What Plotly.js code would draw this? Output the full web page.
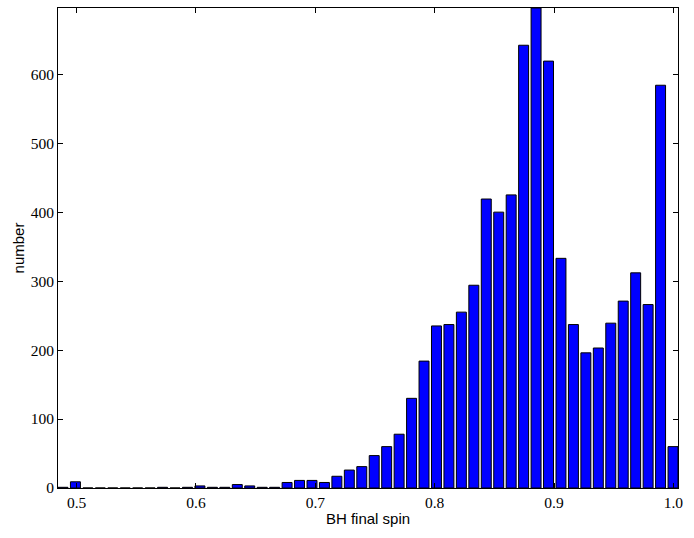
<!DOCTYPE html>
<html>
<head>
<meta charset="utf-8">
<script src="https://cdn.plot.ly/plotly-3.0.1.min.js"></script>
<style>html,body{margin:0;padding:0;background:#fff;}#chart{width:694px;height:538px;}</style>
</head>
<body>
<div id="chart"></div>
<script>
// Histogram of BH final spin: 50 bins
const binStart = 0.4886;      // centre of first bin
const binWidth = 0.01043;     // bin width
const counts = [
  1, 9, 0, 0, 0, 0, 0, 0, 1, 0,
  1, 3, 1, 1, 5, 3, 1, 1, 8, 11,
  11, 8, 17, 26, 31, 47, 60, 78, 130, 184,
  235, 237, 255, 294, 419, 400, 425, 642, 696, 619,
  333, 237, 196, 203, 239, 271, 312, 266, 584, 60
];
const xTicks = [0.5, 0.6, 0.7, 0.8, 0.9, 1.0];
const yTicks = [0, 100, 200, 300, 400, 500, 600];
const xTitle = 'BH final spin';
const yTitle = 'number';

const centers = counts.map((_, i) => binStart + i * binWidth);
const barW = 0.8 * binWidth;

const trace = {
  type: 'bar',
  x: centers,
  y: counts,
  width: barW,
  marker: {color: '#0000ff', line: {color: '#000000', width: 1}},
  hoverinfo: 'x+y'
};

const tickFont = {family: '"Liberation Serif", "DejaVu Serif", serif', size: 15.5, color: '#000'};
const titleFont = {family: '"Liberation Sans", Arial, sans-serif', size: 15, color: '#000'};
const layout = {
  width: 694, height: 538,
  margin: {l: 58, r: 16, t: 8, b: 50, pad: 0},
  paper_bgcolor: '#fff', plot_bgcolor: '#fff',
  showlegend: false,
  bargap: 0,
  xaxis: {
    range: [centers[0] - barW / 2, centers[centers.length - 1] + barW / 2],
    tickvals: xTicks, ticktext: xTicks.map(v => v.toFixed(1)),
    ticks: 'inside', ticklen: 5, tickwidth: 1, tickcolor: '#000',
    showline: true, linecolor: '#000', linewidth: 1, mirror: 'ticks',
    showgrid: false, zeroline: false,
    tickfont: tickFont,
    title: {text: xTitle, font: titleFont, standoff: 3},
    automargin: false
  },
  yaxis: {
    range: [0, 696],
    tickvals: yTicks, ticktext: yTicks.map(String),
    ticks: 'inside', ticklen: 5, tickwidth: 1, tickcolor: '#000',
    showline: true, linecolor: '#000', linewidth: 1, mirror: 'ticks',
    showgrid: false, zeroline: false,
    tickfont: tickFont,
    title: {text: yTitle, font: titleFont, standoff: 2},
    automargin: false
  }
};

Plotly.newPlot('chart', [trace], layout, {displayModeBar: false, staticPlot: true});
</script>
</body>
</html>
